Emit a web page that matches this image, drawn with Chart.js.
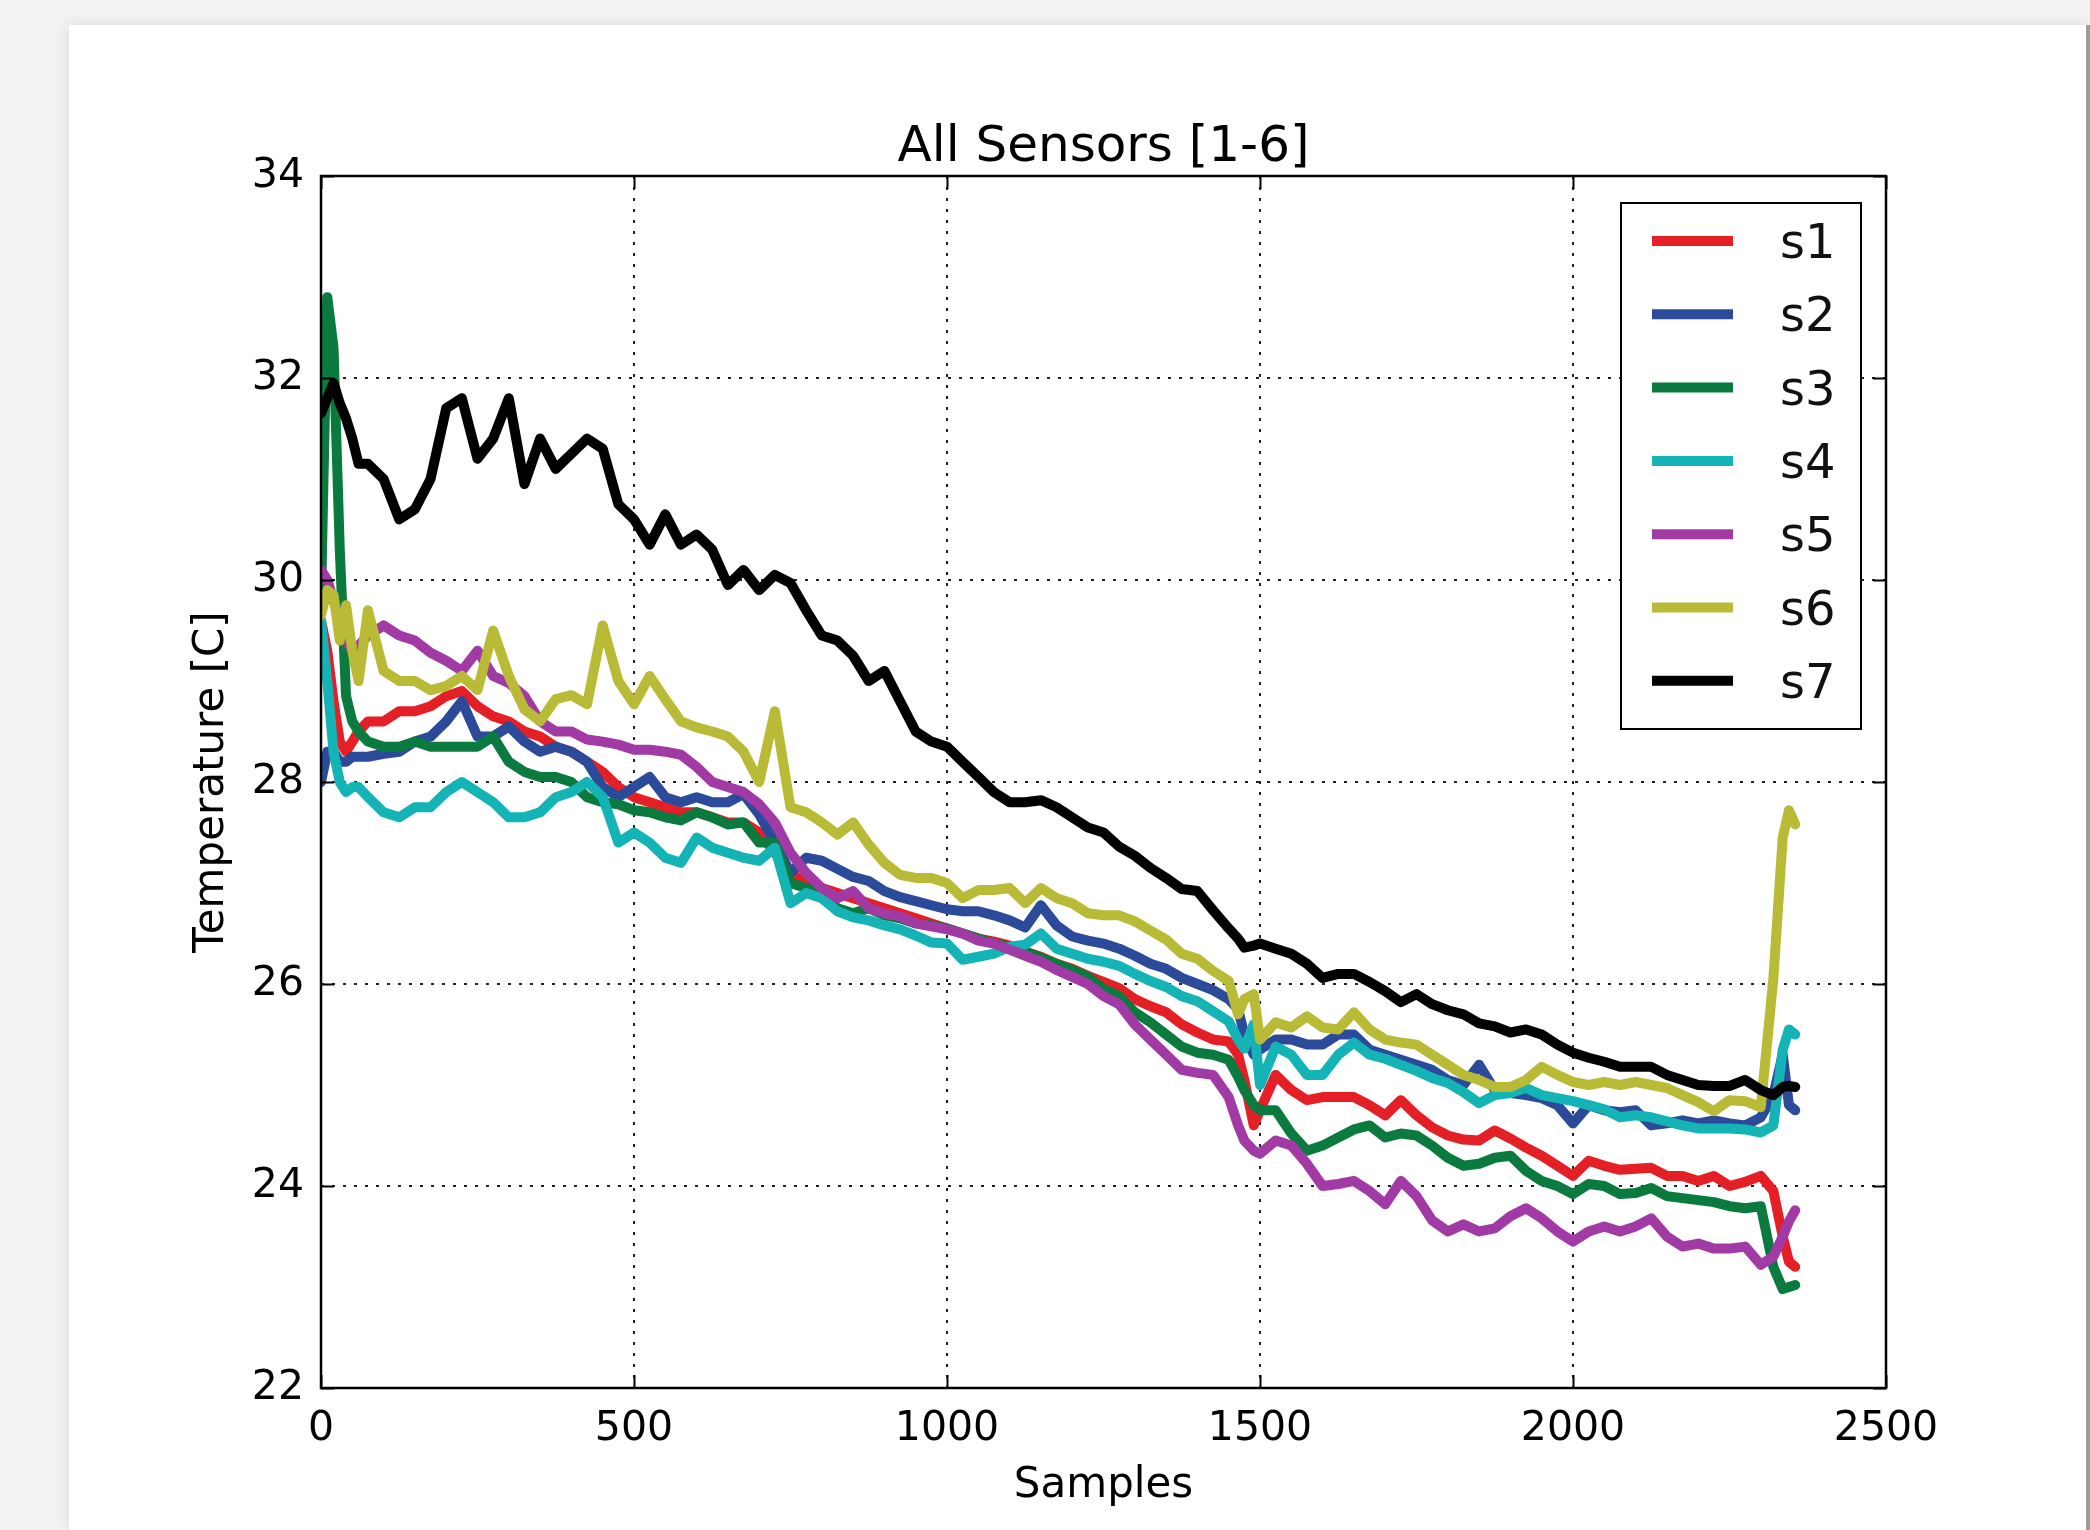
<!DOCTYPE html>
<html>
<head>
<meta charset="utf-8">
<title>All Sensors [1-6]</title>
<script src="https://cdn.jsdelivr.net/npm/chart.js@4.4.0/dist/chart.umd.min.js"></script>
<style>
  html, body { margin: 0; padding: 0; background: #f2f2f2; overflow: hidden; }
  #card {
    position: absolute; left: 69px; top: 25px; width: 2017px; height: 1505px;
    background: #fff; box-shadow: 0 0 14px rgba(0,0,0,0.10);
  }
  #edge { position: absolute; left: 2086px; top: 25px; width: 4px; height: 1505px; background: #9c9c9c; }
  canvas { display: block; }
</style>
</head>
<body>
<div id="card"><canvas id="chart-sensors" width="2017" height="1505" style="width:2017px;height:1505px"></canvas></div>
<div id="edge"></div>
<script>
// DADOS //
const chartTitle = 'All Sensors [1-6]'

const samples = [0, 10, 20, 30, 40, 50, 60, 75,
  100, 125, 150, 175, 200, 225, 250, 275,
  300, 325, 350, 375, 400, 425, 450, 475,
  500, 525, 550, 575, 600, 625, 650, 675,
  700, 725, 750, 775, 800, 825, 850, 875,
  900, 925, 950, 975, 1000, 1025, 1050, 1075,
  1100, 1125, 1150, 1175, 1200, 1225, 1250, 1275,
  1300, 1325, 1350, 1375, 1400, 1425, 1450,
  1465, 1475, 1490, 1500,
  1525, 1550, 1575, 1600, 1625, 1650, 1675, 1700,
  1725, 1750, 1775, 1800, 1825, 1850, 1875, 1900,
  1925, 1950, 1975, 2000, 2025, 2050, 2075, 2100,
  2125, 2150, 2175, 2200, 2225, 2250, 2275, 2300,
  2320, 2335, 2345, 2355]

const s1 = [29.6, 29.3, 28.8, 28.4, 28.3, 28.4, 28.5, 28.6,
  28.6, 28.7, 28.7, 28.75, 28.85, 28.9, 28.75, 28.65,
  28.6, 28.5, 28.45, 28.35, 28.3, 28.2, 28.1, 27.95,
  27.85, 27.8, 27.75, 27.7, 27.7, 27.65, 27.6, 27.6,
  27.5, 27.3, 27.1, 27.0, 26.95, 26.9, 26.85, 26.8,
  26.75, 26.7, 26.65, 26.6, 26.55, 26.5, 26.45, 26.42,
  26.38, 26.32, 26.27, 26.2, 26.15, 26.08, 26.02, 25.96,
  25.85, 25.78, 25.72, 25.6, 25.52, 25.45, 25.43,
  25.3, 25.05, 24.6, 24.75,
  25.1, 24.95, 24.85, 24.88, 24.88, 24.88, 24.8, 24.7,
  24.85, 24.7, 24.58, 24.5, 24.46, 24.45, 24.55, 24.47,
  24.38, 24.3, 24.2, 24.1, 24.25, 24.2, 24.16, 24.17,
  24.18, 24.1, 24.1, 24.05, 24.1, 24.0, 24.04, 24.1,
  23.95, 23.5, 23.25, 23.2]

const s2 = [28.0, 28.3, 28.3, 28.2, 28.2, 28.25, 28.25, 28.25,
  28.28, 28.3, 28.4, 28.45, 28.6, 28.8, 28.45, 28.45,
  28.55, 28.4, 28.3, 28.35, 28.3, 28.2, 27.95, 27.85,
  27.95, 28.05, 27.85, 27.8, 27.85, 27.8, 27.8, 27.88,
  27.68, 27.4, 27.1, 27.25, 27.22, 27.14, 27.06, 27.02,
  26.92, 26.86, 26.82, 26.78, 26.74, 26.72, 26.72, 26.68,
  26.63, 26.56, 26.78, 26.58, 26.47, 26.43, 26.4, 26.35,
  26.28, 26.2, 26.15, 26.06, 26.0, 25.94, 25.85,
  25.75, 25.5, 25.3, 25.35,
  25.45, 25.45, 25.4, 25.4, 25.5, 25.5, 25.35, 25.3,
  25.25, 25.2, 25.15, 25.05, 25.0, 25.2, 24.95, 24.92,
  24.9, 24.87, 24.8, 24.62, 24.8, 24.75, 24.73, 24.75,
  24.6, 24.62, 24.65, 24.62, 24.65, 24.62, 24.6, 24.68,
  24.9, 25.3, 24.8, 24.75]

const s3 = [29.8, 32.8, 32.3, 30.3, 28.85, 28.6, 28.5, 28.4,
  28.35, 28.35, 28.4, 28.35, 28.35, 28.35, 28.35, 28.45,
  28.2, 28.1, 28.05, 28.05, 28.0, 27.85, 27.8, 27.78,
  27.72, 27.7, 27.65, 27.62, 27.7, 27.65, 27.58, 27.6,
  27.4, 27.4, 27.0, 26.95, 26.9, 26.75, 26.7, 26.75,
  26.68, 26.65, 26.6, 26.58, 26.55, 26.5, 26.45, 26.4,
  26.37, 26.32, 26.26, 26.2, 26.14, 26.07, 25.95, 25.88,
  25.72, 25.62, 25.5, 25.38, 25.32, 25.3, 25.25,
  25.08, 24.95, 24.8, 24.75,
  24.75, 24.52, 24.35, 24.4, 24.48, 24.56, 24.6, 24.48,
  24.52, 24.5, 24.4, 24.28, 24.2, 24.22, 24.28, 24.3,
  24.15, 24.05, 24.0, 23.92, 24.02, 24.0, 23.92, 23.93,
  23.98, 23.9, 23.88, 23.86, 23.84, 23.8, 23.78, 23.8,
  23.2, 22.98, 23.0, 23.02]

const s4 = [29.6, 29.0, 28.3, 28.0, 27.9, 27.95, 27.95, 27.85,
  27.7, 27.65, 27.75, 27.75, 27.9, 28.0, 27.9, 27.8,
  27.65, 27.65, 27.7, 27.85, 27.9, 28.0, 27.85, 27.4,
  27.5, 27.4, 27.25, 27.2, 27.45, 27.35, 27.3, 27.25,
  27.22, 27.35, 26.8, 26.9, 26.85, 26.72, 26.66, 26.63,
  26.58, 26.54, 26.48, 26.41, 26.4, 26.24, 26.27, 26.3,
  26.37, 26.39, 26.5, 26.35, 26.3, 26.25, 26.22, 26.18,
  26.1, 26.03, 25.97, 25.88, 25.83, 25.73, 25.63,
  25.45, 25.36, 25.6, 25.0,
  25.38, 25.3, 25.1, 25.1, 25.3, 25.42, 25.3, 25.26,
  25.2, 25.14, 25.07, 25.02, 24.93, 24.82, 24.9, 24.92,
  24.97, 24.9, 24.87, 24.84, 24.8, 24.76, 24.68, 24.7,
  24.68, 24.64, 24.6, 24.57, 24.57, 24.57, 24.56, 24.53,
  24.6, 25.35, 25.55, 25.5]

const s5 = [30.1, 30.0, 29.8, 29.6, 29.4, 29.3, 29.35, 29.45,
  29.55, 29.45, 29.4, 29.28, 29.2, 29.1, 29.3, 29.05,
  28.98, 28.85, 28.6, 28.5, 28.5, 28.42, 28.4, 28.37,
  28.32, 28.32, 28.3, 28.27, 28.15, 28.0, 27.95, 27.9,
  27.78, 27.6, 27.3, 27.1, 26.95, 26.85, 26.92, 26.75,
  26.7, 26.67, 26.6, 26.57, 26.54, 26.5, 26.43, 26.4,
  26.34, 26.28, 26.22, 26.14, 26.07, 26.0, 25.88, 25.8,
  25.6, 25.45, 25.3, 25.15, 25.12, 25.1, 24.88,
  24.6, 24.45, 24.35, 24.32,
  24.45, 24.4, 24.22, 24.0, 24.02, 24.05, 23.95, 23.82,
  24.05, 23.9, 23.66, 23.55, 23.62, 23.55, 23.58, 23.7,
  23.78, 23.68, 23.55, 23.45, 23.55, 23.6, 23.55, 23.6,
  23.68, 23.5, 23.4, 23.43, 23.38, 23.38, 23.4, 23.22,
  23.3, 23.5, 23.65, 23.76]

const s6 = [29.65, 29.9, 29.85, 29.4, 29.75, 29.3, 29.0, 29.7,
  29.1, 29.0, 29.0, 28.91, 28.95, 29.05, 28.91, 29.5,
  29.05, 28.72, 28.6, 28.82, 28.86, 28.77, 29.55, 29.0,
  28.77, 29.05, 28.82, 28.6, 28.54, 28.5, 28.45, 28.3,
  28.0, 28.7, 27.75, 27.7, 27.6, 27.48, 27.6, 27.38,
  27.2, 27.08, 27.05, 27.05, 27.0, 26.85, 26.93, 26.93,
  26.95, 26.8, 26.95, 26.85, 26.8, 26.7, 26.68, 26.68,
  26.62, 26.53, 26.44, 26.3, 26.25, 26.13, 26.03,
  25.7, 25.85, 25.9, 25.45,
  25.62, 25.57, 25.68, 25.57, 25.55, 25.72, 25.55, 25.45,
  25.42, 25.4, 25.3, 25.2, 25.1, 25.05, 24.98, 24.98,
  25.05, 25.18, 25.1, 25.03, 25.0, 25.03, 25.0, 25.03,
  25.0, 24.97, 24.9, 24.83, 24.74, 24.85, 24.84, 24.78,
  26.05, 27.45, 27.72, 27.58]

const s7 = [31.65, 31.8, 31.95, 31.75, 31.6, 31.4, 31.15, 31.15,
  31.0, 30.6, 30.7, 31.0, 31.7, 31.8, 31.2, 31.4,
  31.8, 30.95, 31.4, 31.1, 31.25, 31.4, 31.3, 30.75,
  30.6, 30.35, 30.65, 30.35, 30.45, 30.3, 29.95, 30.1,
  29.9, 30.05, 29.97, 29.7, 29.45, 29.4, 29.25, 29.0,
  29.1, 28.8, 28.5, 28.4, 28.35, 28.2, 28.05, 27.9,
  27.8, 27.8, 27.82, 27.75, 27.65, 27.55, 27.5, 27.36,
  27.27, 27.15, 27.05, 26.94, 26.92, 26.73, 26.55,
  26.45, 26.36, 26.38, 26.4,
  26.35, 26.3, 26.2, 26.06, 26.1, 26.1, 26.02, 25.93,
  25.82, 25.9, 25.8, 25.74, 25.7, 25.61, 25.58, 25.52,
  25.55, 25.5, 25.4, 25.32, 25.27, 25.23, 25.18, 25.18,
  25.18, 25.1, 25.05, 25.0, 24.99, 24.99, 25.05, 24.95,
  24.9, 24.98, 24.99, 24.98]

const seriesNames = ['s1', 's2', 's3', 's4', 's5', 's6', 's7']
const seriesValues = [s1, s2, s3, s4, s5, s6, s7]
const seriesColors = ['#e41f26', '#2c4a9a', '#0a7a3e', '#14b3b5', '#a23aa5', '#b9bb36', '#000000']

const FONT = "'DejaVu Sans', sans-serif"

// TITULO CENTRADO NA AREA DO GRAFICO //
const centerTitlePlugin = {
    id: 'centerTitle',
    afterDraw(chart) {
        const { ctx, chartArea: a } = chart
        ctx.save()
        ctx.font = `50px ${FONT}`
        ctx.fillStyle = '#000'
        ctx.textAlign = 'center'
        ctx.textBaseline = 'alphabetic'
        ctx.fillText(chartTitle, (a.left + a.right) / 2, a.top - 15)
        ctx.restore()
    }
}

// MOLDURA E TICKS INTERNOS (estilo matplotlib) //
const framePlugin = {
    id: 'frame',
    afterDatasetsDraw(chart) {
        const { ctx, chartArea: a, scales: { x, y } } = chart
        ctx.save()
        ctx.strokeStyle = '#000'
        ctx.lineWidth = 2
        ctx.beginPath()
        x.ticks.forEach(t => {
            const px = Math.round(x.getPixelForValue(t.value)) + 0.5
            ctx.moveTo(px, a.bottom); ctx.lineTo(px, a.bottom - 13)
            ctx.moveTo(px, a.top); ctx.lineTo(px, a.top + 13)
        })
        y.ticks.forEach(t => {
            const py = Math.round(y.getPixelForValue(t.value)) + 0.5
            ctx.moveTo(a.left, py); ctx.lineTo(a.left + 13, py)
            ctx.moveTo(a.right, py); ctx.lineTo(a.right - 13, py)
        })
        ctx.stroke()
        ctx.lineWidth = 2.5
        ctx.strokeRect(a.left, a.top, a.right - a.left, a.bottom - a.top)
        ctx.restore()
    }
}

// LEGENDA COM CAIXA //
const boxLegendPlugin = {
    id: 'boxLegend',
    afterDraw(chart) {
        const { ctx, chartArea: a } = chart
        const w = 240, h = 526
        const bx = a.right - 25 - w, by = a.top + 27
        ctx.save()
        ctx.fillStyle = '#fff'
        ctx.fillRect(bx, by, w, h)
        ctx.strokeStyle = '#000'
        ctx.lineWidth = 2
        ctx.strokeRect(bx, by, w, h)
        ctx.font = `48px ${FONT}`
        ctx.textBaseline = 'alphabetic'
        ctx.textAlign = 'left'
        chart.data.datasets.forEach((ds, i) => {
            const ly = by + 38 + i * 73.3
            ctx.strokeStyle = ds.borderColor
            ctx.lineWidth = 10
            ctx.beginPath()
            ctx.moveTo(bx + 31, ly)
            ctx.lineTo(bx + 112, ly)
            ctx.stroke()
            ctx.fillStyle = '#111'
            ctx.fillText(ds.label, bx + 159, ly + 17)
        })
        ctx.restore()
    }
}

const chartCanvas = document.getElementById('chart-sensors').getContext('2d')

new Chart(chartCanvas, {
    type: 'line',
    data: {
        datasets: seriesNames.map((name, i) => ({
            label: name,
            data: seriesValues[i].map((v, j) => ({ x: samples[j], y: v })),
            borderColor: seriesColors[i],
            backgroundColor: seriesColors[i],
            borderWidth: 10,
            borderJoinStyle: 'round',
            borderCapStyle: 'round',
            pointRadius: 0,
            tension: 0,
            fill: false,
            clip: 0,
            order: seriesNames.length - 1 - i
        }))
    },
    options: {
        responsive: false,
        animation: false,
        devicePixelRatio: 1,
        layout: {
            padding: { left: 100, right: 200, top: 151, bottom: 0 }
        },
        plugins: {
            legend: { display: false },
            tooltip: { enabled: false },
            title: { display: false }
        },
        scales: {
            x: {
                type: 'linear',
                min: 0,
                max: 2500,
                afterFit: scale => { scale.height = 142 },
                ticks: {
                    stepSize: 500,
                    color: '#000',
                    padding: 17,
                    maxRotation: 0,
                    font: { family: FONT, size: 41 },
                    callback: value => String(value)
                },
                grid: {
                    color: '#222',
                    lineWidth: 2,
                    drawTicks: false
                },
                border: { display: false, dash: [3, 8] },
                title: {
                    display: true,
                    text: 'Samples',
                    color: '#000',
                    font: { family: FONT, size: 42, lineHeight: 1.2 },
                    padding: { top: 0, bottom: 19 }
                }
            },
            y: {
                type: 'linear',
                min: 22,
                max: 34,
                afterFit: scale => { scale.width = 152 },
                ticks: {
                    stepSize: 2,
                    color: '#000',
                    padding: 17,
                    font: { family: FONT, size: 41 },
                    callback: value => String(value)
                },
                grid: {
                    color: '#222',
                    lineWidth: 2,
                    drawTicks: false
                },
                border: { display: false, dash: [3, 8] },
                title: {
                    display: true,
                    text: 'Temperature [C]',
                    color: '#000',
                    font: { family: FONT, size: 42, lineHeight: 1.2 },
                    padding: { top: 18, bottom: 0 }
                }
            }
        }
    },
    plugins: [framePlugin, boxLegendPlugin, centerTitlePlugin]
})
</script>
</body>
</html>
